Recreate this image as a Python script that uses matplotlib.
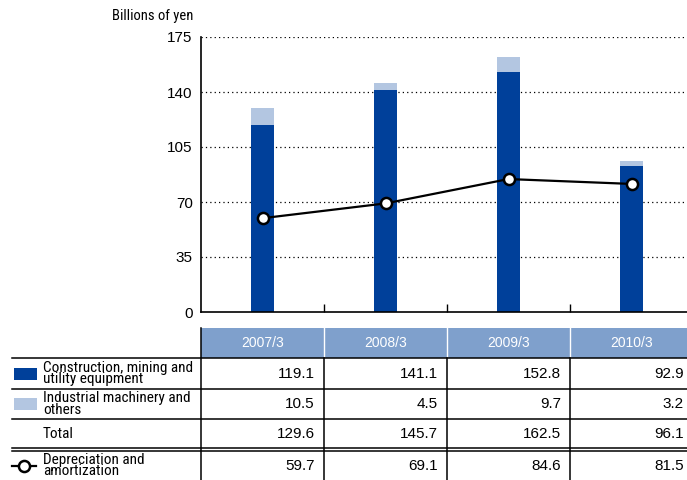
import numpy as np
import matplotlib
matplotlib.use("Agg")
import matplotlib.pyplot as plt
from matplotlib.patches import Rectangle
from matplotlib.lines import Line2D

# data
periods = ["2007/3", "2008/3", "2009/3", "2010/3"]
construction = [119.1, 141.1, 152.8, 92.9]
industrial = [10.5, 4.5, 9.7, 3.2]
total = [129.6, 145.7, 162.5, 96.1]
depreciation = [59.7, 69.1, 84.6, 81.5]
yticks = [0, 35, 70, 105, 140, 175]
row_labels = ["Construction, mining and\nutility equipment",
              "Industrial machinery and\nothers",
              "Total",
              "Depreciation and\namortization"]

dark_blue = "#00409a"
light_blue = "#b3c6e1"
header_blue = "#7fa0cc"
narrow = ["Roboto Condensed", "Liberation Sans", "DejaVu Sans"]
plain = ["Liberation Sans", "DejaVu Sans"]

W, H = 687, 480
fig = plt.figure(figsize=(W / 100, H / 100), dpi=100)

# chart area in pixel terms
left, right, top, bottom = 201, 693, 37, 312
ax = fig.add_axes([left / W, 1 - bottom / H, (right - left) / W, (bottom - top) / H])
x = np.arange(len(periods))
bw = 0.187
ax.bar(x, construction, width=bw, color=dark_blue, zorder=2)
ax.bar(x, industrial, width=bw, bottom=construction, color=light_blue, zorder=2)
ax.plot(x, depreciation, color="black", lw=1.6, marker="o", markersize=8,
        markerfacecolor="white", markeredgecolor="black", markeredgewidth=1.8, zorder=3)

ax.set_xlim(-0.5, 3.5)
ax.set_ylim(0, 175)
ax.set_yticks(yticks)
ax.set_yticklabels([str(v) for v in yticks], family=plain, fontsize=11)
ax.tick_params(axis="y", length=0, pad=6)
ax.set_xticks([0.5, 1.5, 2.5])
ax.set_xticklabels([])
ax.tick_params(axis="x", direction="in", length=6, width=1)
for v in yticks[1:]:
    ax.axhline(v, color="black", lw=0.9, ls=(0, (1, 2.5)), zorder=1)
ax.spines["top"].set_visible(False)
ax.spines["right"].set_visible(False)
ax.spines["left"].set_linewidth(1.2)
ax.spines["bottom"].set_linewidth(1.2)

fig.text(193 / W, 1 - 16 / H, "Billions of yen", ha="right", va="center",
         family=narrow, fontsize=10.5)

# table drawn on an overlay in pixel coordinates
tb = fig.add_axes([0, 0, 1, 1])
tb.set_xlim(0, W)
tb.set_ylim(H, 0)
tb.axis("off")

col_edges = [201, 324, 447, 570, 693]
tb.add_patch(Rectangle((201, 328), W - 201, 29.5, color=header_blue, lw=0))
for i, p in enumerate(periods):
    cx = (col_edges[i] + col_edges[i + 1]) / 2
    tb.text(cx, 343, p, ha="center", va="center", color="white",
            family=plain, fontsize=10)
for xe in col_edges[1:4]:
    tb.plot([xe, xe], [328, 357.5], color="white", lw=1)
    tb.plot([xe, xe], [357.5, H], color="black", lw=1.1)
tb.plot([201, 201], [328, H], color="black", lw=1.1)

for yl in [357.5, 388.5, 418.5, 447.5, 450.5]:
    tb.plot([12, W], [yl, yl], color="black", lw=1.1)

row_centers = [373, 403.5, 433, 465]
rows = [construction, industrial, total, depreciation]
for rc, label, vals in zip(row_centers, row_labels, rows):
    tb.text(43, rc + 0.5, label, ha="left", va="center", family=narrow,
            fontsize=11, linespacing=0.8)
    for i, v in enumerate(vals):
        tb.text(col_edges[i + 1] - 9, rc + 1, f"{v:.1f}", ha="right", va="center",
                family=plain, fontsize=11)

tb.add_patch(Rectangle((14, 368), 23, 12, color=dark_blue, lw=0))
tb.add_patch(Rectangle((14, 398), 23, 11.5, color=light_blue, lw=0))
tb.add_line(Line2D([12, 36], [466, 466], color="black", lw=1.6))
tb.plot([24], [466], marker="o", markersize=8, markerfacecolor="white",
        markeredgecolor="black", markeredgewidth=1.8)

fig.savefig("out.png", dpi=100)
